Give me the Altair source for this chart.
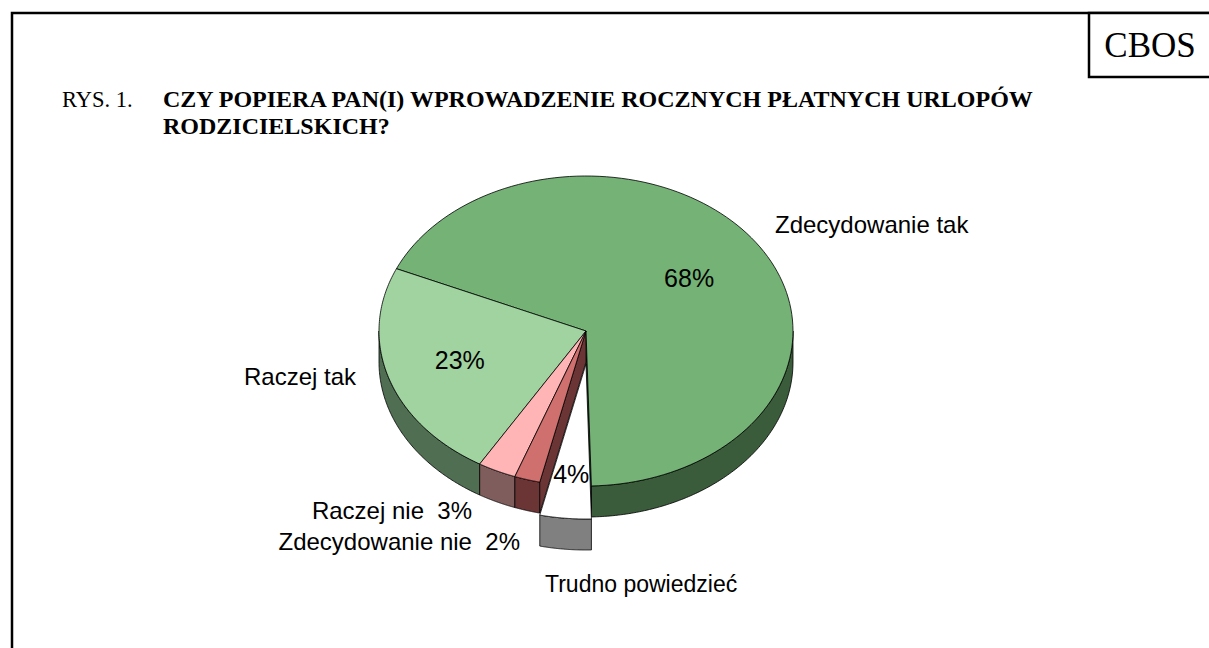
import altair as alt
import numpy as np
import pandas as pd

# ---------------- data ----------------
categories = ["Zdecydowanie tak", "Raczej tak", "Raczej nie", "Zdecydowanie nie", "Trudno powiedzieć"]
values = [68, 23, 3, 2, 4]
pct_labels = ["68%", "23%", "3%", "2%", "4%"]
exploded = [0, 0, 0, 0, 1]
top_colors = ["#74B276", "#A0D3A0", "#FFB5B5", "#D0706E", "#FFFFFF"]
side_colors = ["#3A5C3B", "#506E52", "#805D5D", "#6B3535", "#808080"]

title_prefix = "RYS. 1."
title_lines = ["CZY POPIERA PAN(I) WPROWADZENIE ROCZNYCH PŁATNYCH URLOPÓW", "RODZICIELSKICH?"]
brand = "CBOS"

# ---------------- layout ----------------
W, H = 1209, 648
CX, CY, RX, RY, DEPTH = 586, 331, 207, 155, 31
START = 178.5      # degrees clockwise from 12 o'clock; slices run counter-clockwise
EXPLODE_PX = 33    # exploded slice is pulled straight toward the viewer
NSTEP = 120
PCT_R = [0.6, 0.64, None, None, 0.72]
# outside label anchors: (x, baseline y, align, text includes pct, font size)
OUT_LABELS = {
    "Zdecydowanie tak": (775, 233, "left", False, 24),
    "Raczej tak": (356, 385, "right", False, 24),
    "Raczej nie": (472, 519, "right", True, 24),
    "Zdecydowanie nie": (520, 550, "right", True, 24),
    "Trudno powiedzieć": (545, 592, "left", False, 23),
}


def rim(theta, ox=0.0, oy=0.0, dz=0.0, r=1.0):
    t = np.radians(theta)
    return CX + ox + r * RX * np.sin(t), CY + oy - r * RY * np.cos(t) + dz


rows = {"wall": [], "top": [], "xwall": [], "xtop": []}
pct_rows = []

cum = np.concatenate([[0], np.cumsum(values)])
total = float(cum[-1])
slices = []
for i, cat in enumerate(categories):
    hi = START - 360.0 * cum[i] / total
    lo = START - 360.0 * cum[i + 1] / total
    mid = (lo + hi) / 2
    if exploded[i]:
        ox, oy = 0.0, float(EXPLODE_PX)
    else:
        ox, oy = 0.0, 0.0
    slices.append((cat, lo, hi, mid, ox, oy))


def add_poly(layer, pid, pts, color):
    pts = list(pts) + [pts[0]]
    for k, (x, y) in enumerate(pts):
        rows[layer].append({"pid": pid, "idx": k, "x": x, "y": y, "fill": color})


for i, (cat, lo, hi, mid, ox, oy) in enumerate(slices):
    ex = exploded[i]
    wl = "xwall" if ex else "wall"
    tl = "xtop" if ex else "top"
    # outer side wall (front half only)
    for sh in (-360, 0, 360):
        a0, a1 = max(lo, 90 + sh), min(hi, 270 + sh)
        if a1 > a0:
            th = np.linspace(a0, a1, NSTEP)
            upper = [rim(a, ox, oy) for a in th]
            lower = [rim(a, ox, oy, DEPTH) for a in th[::-1]]
            add_poly(wl, f"w{i}_{sh}", upper + lower, side_colors[i])
    # radial cut faces next to an exploded slice (or of the exploded slice)
    for j, edge in ((i - 1, hi), (i + 1, lo)):
        jj = j % len(categories)
        if not (exploded[i] or exploded[jj]):
            continue
        normal = edge + 90 if edge == hi else edge - 90
        if np.cos(np.radians(normal - 180)) > 1e-6:
            c0 = (CX + ox, CY + oy)
            c1 = (CX + ox, CY + oy + DEPTH)
            add_poly(wl, f"c{i}_{jj}", [c0, rim(edge, ox, oy), rim(edge, ox, oy, DEPTH), c1], side_colors[i])
    # top face
    th = np.linspace(lo, hi, NSTEP)
    add_poly(tl, f"t{i}", [(CX + ox, CY + oy)] + [rim(a, ox, oy) for a in th], top_colors[i])
    if PCT_R[i] is not None:
        px, py = rim(mid, ox, oy, r=PCT_R[i])
        pct_rows.append({"x": px, "y": py, "label": pct_labels[i]})

out_rows = []
for i, cat in enumerate(categories):
    x, y, align, with_pct, fs = OUT_LABELS[cat]
    text = cat + ("\u00a0\u00a0" + pct_labels[i] if with_pct else "")
    out_rows.append({"x": x, "y": y, "label": text, "align": align, "fs": fs})

xs = alt.Scale(domain=[0, W], nice=False, zero=False)
ys = alt.Scale(domain=[0, H], nice=False, zero=False, reverse=True)


def poly_layer(layer):
    df = pd.DataFrame(rows[layer])
    return alt.Chart(df).mark_line(stroke="black", strokeWidth=0.8, strokeJoin="round",
                                   interpolate="linear").encode(
        x=alt.X("x:Q", scale=xs, axis=None),
        y=alt.Y("y:Q", scale=ys, axis=None),
        detail="pid:N",
        order="idx:Q",
        fill=alt.Fill("fill:N", scale=None),
    )


layers = [poly_layer(l) for l in ("wall", "top", "xwall", "xtop")]

pct_df = pd.DataFrame(pct_rows)
layers.append(alt.Chart(pct_df).mark_text(font="Liberation Sans", fontSize=25, baseline="middle",
                                          align="center", color="black").encode(
    x=alt.X("x:Q", scale=xs, axis=None), y=alt.Y("y:Q", scale=ys, axis=None), text="label:N"))

out_df = pd.DataFrame(out_rows)
for al in ("left", "right"):
    sub = out_df[out_df["align"] == al]
    layers.append(alt.Chart(sub).mark_text(font="Liberation Sans", baseline="alphabetic",
                                           align=al, color="black").encode(
        x=alt.X("x:Q", scale=xs, axis=None), y=alt.Y("y:Q", scale=ys, axis=None), text="label:N",
        size=alt.Size("fs:Q", scale=None, legend=None)))

# frame and brand box
deco = pd.DataFrame({"brand": [brand]})
layers.append(alt.Chart(deco).mark_rect(fill=None, stroke="black", strokeWidth=2.5).encode(
    x=alt.value(12), x2=alt.value(1260), y=alt.value(13), y2=alt.value(720)))
layers.append(alt.Chart(deco).mark_rect(fill="white", stroke="black", strokeWidth=2.5).encode(
    x=alt.value(1089), x2=alt.value(1260), y=alt.value(13), y2=alt.value(77)))
layers.append(alt.Chart(deco).mark_text(font="Liberation Serif", fontSize=35, align="center",
                                        baseline="alphabetic", color="black").encode(
    x=alt.value(1150), y=alt.value(57), text="brand:N"))

# title
tp = pd.DataFrame({"t": [title_prefix]})
layers.append(alt.Chart(tp).mark_text(font="Liberation Serif", fontSize=22.5, align="left",
                                      baseline="alphabetic", color="black").encode(
    x=alt.value(62), y=alt.value(107), text="t:N"))
tl_df = pd.DataFrame({"t": title_lines, "line": list(range(len(title_lines)))})
layers.append(alt.Chart(tl_df).mark_text(font="Liberation Serif", fontSize=24, fontWeight="bold",
                                         align="left", baseline="alphabetic", color="black").encode(
    x=alt.value(163), y=alt.Y("line:Q", scale=alt.Scale(domain=[0, 1], range=[107, 134]), axis=None),
    text="t:N"))

chart = alt.layer(*layers).resolve_scale(y="independent").properties(
    width=W, height=H, padding=0, autosize="none", background="white"
).configure_view(stroke=None)

chart.save("out.html", embed_options={"renderer": "svg", "actions": False})
